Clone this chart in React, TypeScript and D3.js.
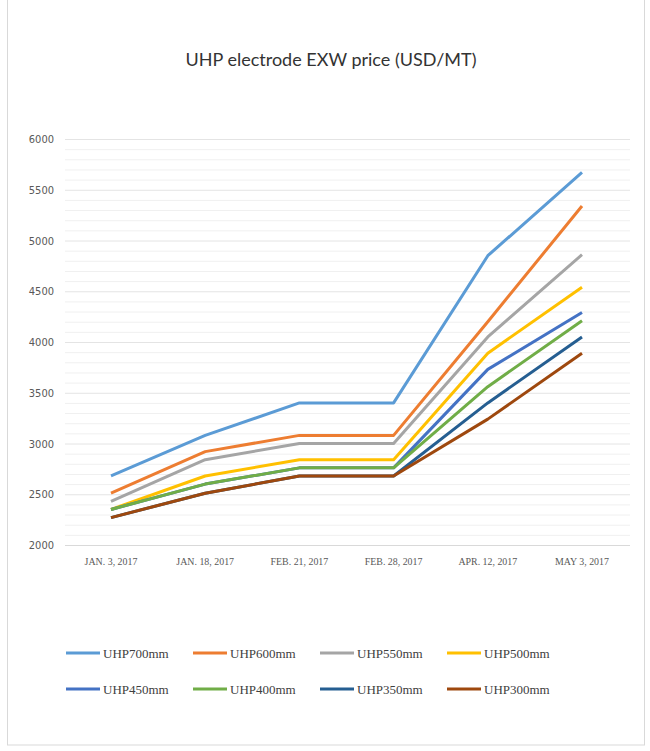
import { useEffect, useRef } from "react"
import * as d3 from "d3"

const dates = ["JAN. 3, 2017", "JAN. 18, 2017", "FEB. 21, 2017", "FEB. 28, 2017", "APR. 12, 2017", "MAY 3, 2017"]
const seriesNames = ["UHP700mm", "UHP600mm", "UHP550mm", "UHP500mm", "UHP450mm", "UHP400mm", "UHP350mm", "UHP300mm"]
const colors = ["#5b9bd5", "#ed7d31", "#a5a5a5", "#ffc000", "#4472c4", "#70ad47", "#255e91", "#9e480e"]
const uhp700 = [2680, 3080, 3400, 3400, 4850, 5670]
const uhp600 = [2510, 2920, 3080, 3080, 4200, 5340]
const uhp550 = [2430, 2840, 3000, 3000, 4050, 4860]
const uhp500 = [2350, 2680, 2840, 2840, 3890, 4540]
const uhp450 = [2350, 2600, 2760, 2760, 3730, 4290]
const uhp400 = [2350, 2600, 2760, 2760, 3560, 4210]
const uhp350 = [2270, 2510, 2680, 2680, 3400, 4050]
const uhp300 = [2270, 2510, 2680, 2680, 3240, 3890]
const yTicks = [2000, 2500, 3000, 3500, 4000, 4500, 5000, 5500, 6000]

export default function App() {
  const ref = useRef<SVGSVGElement>(null)

  useEffect(() => {
    if (!ref.current) return
    const svg = d3.select(ref.current)
    svg.selectAll("*").remove()
    const W = 650, H = 751
    const all = [uhp700, uhp600, uhp550, uhp500, uhp450, uhp400, uhp350, uhp300]

    svg.append("rect").attr("width", W).attr("height", H).attr("fill", "#fff")
    svg.append("rect").attr("x", 7.5).attr("y", -1).attr("width", 637).attr("height", 746)
      .attr("fill", "none").attr("stroke", "#d9d9d9")

    svg.append("text").attr("x", 331).attr("y", 66).attr("text-anchor", "middle")
      .attr("font-family", "Lato, sans-serif").attr("font-size", 18).attr("fill", "#333")
      .text("UHP electrode EXW price (USD/MT)")

    const x = d3.scalePoint<string>().domain(dates).range([111, 582])
    const y = d3.scaleLinear().domain([2000, 6000]).range([545, 139])

    // minor grid every 100
    const g = svg.append("g")
    g.selectAll("line.minor").data(d3.range(2100, 6001, 100)).enter().append("line")
      .attr("x1", 65).attr("x2", 630).attr("y1", (d) => y(d) + 0.5).attr("y2", (d) => y(d) + 0.5)
      .attr("stroke", (d) => (d % 500 === 0 ? "#e4e4e4" : "#f0f0f0"))
    g.append("line").attr("x1", 65).attr("x2", 630).attr("y1", y(2000) + 0.5).attr("y2", y(2000) + 0.5)
      .attr("stroke", "#d9d9d9")

    g.selectAll("text.y").data(yTicks).enter().append("text")
      .attr("x", 54).attr("y", (d) => y(d) + 4).attr("text-anchor", "end")
      .attr("font-family", "DejaVu Sans Condensed, sans-serif").attr("font-size", 11).attr("fill", "#595959")
      .text((d) => d)

    g.selectAll("text.x").data(dates).enter().append("text")
      .attr("x", (d) => x(d)!).attr("y", 565).attr("text-anchor", "middle")
      .attr("font-family", "Liberation Serif, serif").attr("font-size", 11).attr("fill", "#595959")
      .attr("transform", (d) => `translate(${x(d)!},0) scale(0.9,1) translate(${-x(d)!},0)`)
      .text((d) => d)

    const line = d3.line<number>().x((_, i) => x(dates[i])!).y((d) => y(d))
    // later series drawn on top, as in the reference overlaps
    all.forEach((s, k) => {
      svg.append("path").datum(s).attr("d", line).attr("fill", "none")
        .attr("stroke", colors[k]).attr("stroke-width", 3).attr("stroke-linejoin", "round")
    })

    const leg = svg.append("g")
    seriesNames.forEach((name, i) => {
      const lx = 66 + (i % 4) * 127
      const ly = 653 + Math.floor(i / 4) * 36
      leg.append("line").attr("x1", lx).attr("x2", lx + 34).attr("y1", ly).attr("y2", ly)
        .attr("stroke", colors[i]).attr("stroke-width", 3)
      leg.append("text").attr("x", lx + 37).attr("y", ly + 5)
        .attr("font-family", "Liberation Serif, serif").attr("font-size", 13).attr("fill", "#404040")
        .text(name)
    })
  }, [])

  return <svg ref={ref} width={650} height={751} style={{ position: "absolute", left: 0, top: 0 }} />
}
